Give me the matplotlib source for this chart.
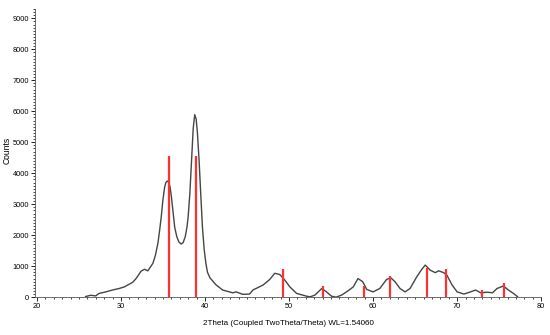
import numpy as np
import matplotlib.pyplot as plt
from matplotlib.ticker import MultipleLocator

plt.rcParams['font.family'] = ['Liberation Sans', 'DejaVu Sans']

# Difractograma medido (2theta, cuentas)
two_theta = [25.8, 26.4, 27.0, 27.4, 28.2, 29.0, 29.8, 30.4, 31.0, 31.4, 31.8,
             32.4, 32.8, 33.2, 33.8, 34.1, 34.4, 34.6, 34.8, 35.0, 35.2, 35.35,
             35.5, 35.7, 35.85, 36.0, 36.2, 36.4, 36.65, 36.9, 37.16, 37.4,
             37.65, 37.85, 38.0, 38.2, 38.4, 38.6, 38.78, 38.95, 39.1, 39.3,
             39.5, 39.7, 39.9, 40.1, 40.3, 40.6, 41.3,
             42.1, 43.3, 43.7, 44.5, 45.3, 45.7, 46.9, 47.7, 48.3, 48.9, 49.5,
             50.1, 50.9, 52.1, 52.5, 53.07, 53.9, 54.46, 55.06, 55.6, 56.25,
             57.0, 57.64, 58.2, 58.76, 59.24, 60.0, 60.8, 61.6, 62.1, 62.6,
             63.2, 63.8, 64.4, 65.2, 65.8, 66.2, 66.8, 67.4, 67.8, 68.4, 68.8,
             69.4, 70.0, 70.8, 71.6, 72.2, 72.8, 73.6, 74.2, 74.75, 75.5,
             76.1, 76.7, 77.2]
counts = [20, 60, 40, 120, 170, 230, 280, 330, 420, 480, 600,
          840, 900, 850, 1090, 1350, 1740, 2150, 2600, 3150, 3550, 3700,
          3750, 3700, 3550, 3250, 2750, 2250, 1950, 1780, 1715, 1760,
          1950, 2250, 2600, 3350, 4400, 5450, 5890, 5750, 5300, 4400,
          3300, 2250, 1550, 1100, 800, 620, 400,
          230, 140, 170, 90, 100, 230, 390, 570, 770, 730, 550,
          330, 120, 30, 10, 65, 280, 170, 30, 0, 65,
          200, 330, 600, 500, 250, 170, 280, 570, 625, 500,
          280, 170, 280, 660, 900, 1035, 870, 790, 850, 790, 700,
          390, 170, 100, 170, 230, 140, 160, 140, 280, 360,
          230, 120, 10]

# Patrón de referencia (líneas rojas)
ref_theta = [35.73, 38.95, 49.25, 53.99, 58.91, 61.98, 66.43, 68.66, 72.91, 75.62]
ref_counts = [4550, 4550, 896, 366, 356, 680, 929, 906, 226, 463]

fig = plt.figure(figsize=(5.5, 3.35), dpi=100)
ax = fig.add_axes([0.064, 0.113, 0.92, 0.86])

ax.plot(two_theta, counts, color='#454545', linewidth=1.0)
ax.vlines(ref_theta, 0, ref_counts, color='#ff3030', linewidth=1.6)

ax.set_xlim(19.8, 80)
ax.set_ylim(0, 9300)
ax.xaxis.set_major_locator(MultipleLocator(10))
ax.xaxis.set_minor_locator(MultipleLocator(1))
ax.yaxis.set_major_locator(MultipleLocator(1000))
ax.yaxis.set_minor_locator(MultipleLocator(100))
ax.tick_params(axis='both', which='major', labelsize=5.3, length=3, width=0.6, pad=1.5)
ax.tick_params(axis='both', which='minor', length=1.5, width=0.5)

for s in ['top', 'right']:
    ax.spines[s].set_visible(False)
for s in ['left', 'bottom']:
    ax.spines[s].set_linewidth(0.6)
    ax.spines[s].set_color('#555555')

ax.set_xlabel('2Theta (Coupled TwoTheta/Theta) WL=1.54060', fontsize=5.8, labelpad=7)
ax.set_ylabel('Counts', fontsize=6.2)
ax.yaxis.set_label_coords(-0.046, 0.51)

fig.savefig('out.png', dpi=100)
